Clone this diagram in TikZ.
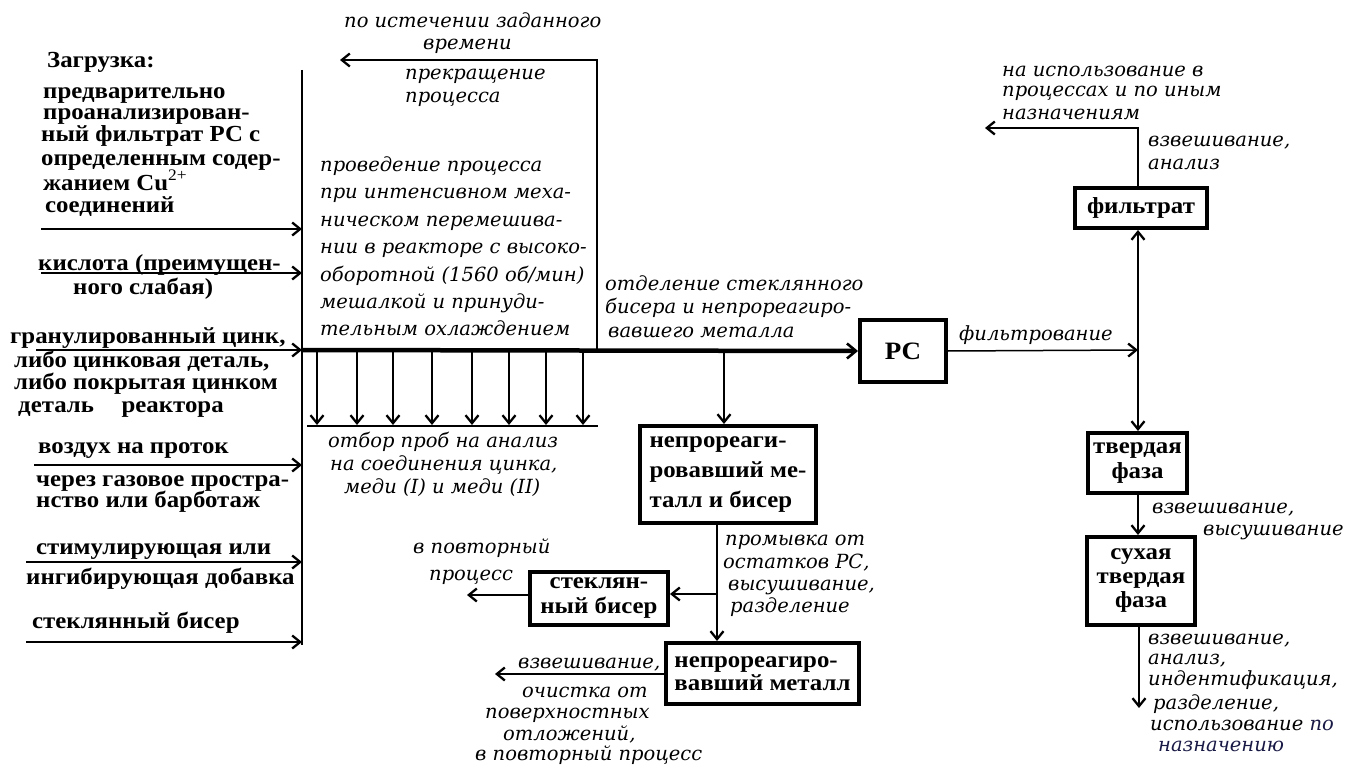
\documentclass[tikz,border=0pt]{standalone}
\usepackage{fontspec}
\setmainfont{Liberation Serif}
\newfontfamily\bfam[FakeStretch=1.08]{Liberation Serif}
\newfontfamily\itf{DejaVu Serif}
\usetikzlibrary{arrows.meta}
\definecolor{navyink}{RGB}{25,25,70}
\begin{document}
\begin{tikzpicture}[x=1pt,y=-1pt,
  >={Straight Barb[length=8pt,width=13pt,line width=2.3pt]},
  bt/.style={font=\bfam\fontsize{23}{21}\selectfont\bfseries, inner sep=0pt, anchor=base west},
  it/.style={font=\fontsize{19.5}{22}\selectfont\itf\itshape, inner sep=0pt, anchor=base west},
  ln/.style={line width=1.5pt},
  ar/.style={ln,->},
  mainln/.style={line width=4.5pt},
  box/.style={draw, line width=4pt, font=\bfam\fontsize{23}{25}\selectfont\bfseries, inner sep=0pt, align=center},
]
\useasboundingbox (0,0) rectangle (1345,765);

% ---------- left: loading ----------
\node[bt] (zag) at (47,68) {Загрузка:};
\node[bt] (a1) at (43,99) {предварительно};
\node[bt] (a2) at (43,120) {проанализирован-};
\node[bt] (a3) at (41,142) {ный фильтрат РС с};
\node[bt] (a4) at (41,166) {определенным содер-};
\node[bt] (a5) at (43,190) {жанием Cu\textsuperscript{\mdseries 2+}};
\node[bt] (a6) at (45,213) {соединений};
\node[bt] (b1) at (38,270) {кислота (преимущен-};
\node[bt] (b2) at (73,294) {ного слабая)};
\node[bt] (c1) at (10,343) {гранулированный цинк,};
\node[bt] (c2) at (14,367) {либо цинковая деталь,};
\node[bt] (c3) at (14,389) {либо покрытая цинком};
\node[bt] (c4) at (18,412) {деталь\hspace{1.2em}реактора};
\node[bt] (d1) at (38,453) {воздух на проток};
\node[bt] (d2) at (36,486) {через газовое простра-};
\node[bt] (d3) at (36,507) {нство или барботаж};
\node[bt] (e1) at (36,554) {стимулирующая или};
\node[bt] (e2) at (26,584) {ингибирующая добавка};
\node[bt] (f1) at (32,628) {стеклянный бисер};

% reactor wall
\coordinate (wtop) at (302,70);
\coordinate (wbot) at (302,645);
\draw[ln] (wtop) -- (wbot);

\coordinate (in1) at (41,229);  \coordinate (w1) at (302,229);
\coordinate (in2) at (41,273);  \coordinate (w2) at (302,273);
\coordinate (in3) at (36,350);  \coordinate (w3) at (302,350);
\coordinate (in4) at (34,465);  \coordinate (w4) at (302,465);
\coordinate (in5) at (26,562);  \coordinate (w5) at (302,562);
\coordinate (in6) at (26,642);  \coordinate (w6) at (302,642);
\draw[ar] (in1) -- (w1);
\draw[ar] (in2) -- (w2);
\draw[ar] (in3) -- (w3);
\draw[ar] (in4) -- (w4);
\draw[ar] (in5) -- (w5);
\draw[ar] (in6) -- (w6);

% ---------- process ----------
\node[it] (p0a) at (344,28) {по истечении заданного};
\node[it] (p0b) at (423,50) {времени};
\node[it] (p1a) at (405,80) {прекращение};
\node[it] (p1b) at (405,103) {процесса};
\node[it] (p2a) at (320,172) {проведение процесса};
\node[it] (p2b) at (320,199) {при интенсивном меха-};
\node[it] (p2c) at (320,226) {ническом перемешива-};
\node[it] (p2d) at (320,253) {нии в реакторе с высоко-};
\node[it] (p2e) at (320,281) {оборотной (1560 об/мин)};
\node[it] (p2f) at (320,308) {мешалкой и принуди-};
\node[it] (p2g) at (320,335) {тельным охлаждением};

\coordinate (stopc) at (597,60);
\coordinate (stopend) at (340,60);
\coordinate (stopbase) at (597,350);
\draw[ar] (stopbase) -- (stopc) -- (stopend);

% PC box
\node[box, minimum width=86pt, minimum height=62pt, font=\bfam\fontsize{25}{25}\selectfont\bfseries] (pc) at (903,351) {РС};
\draw[mainln, -{Straight Barb[length=9pt,width=15pt,line width=2.6pt]}] (w3) -- (pc.west);

\node[it] (sepa) at (605,290) {отделение стеклянного};
\node[it] (sepb) at (605,313) {бисера и непрореагиро-};
\node[it] (sepc) at (608,337) {вавшего металла};

% sampling arrows
\foreach \i/\xx in {1/317,2/357,3/393,4/432,5/472,6/509,7/546,8/583}{
  \coordinate (sa\i) at (\xx,352);
  \coordinate (sb\i) at (\xx,425);
  \draw[ar] (sa\i) -- (sb\i);
}
\coordinate (sl) at (307,426);
\coordinate (sr) at (598,426);
\draw[ln] (sl) -- (sr);
\node[it] (s1) at (328,447) {отбор проб на анализ};
\node[it] (s2) at (330,470) {на соединения цинка,};
\node[it] (s3) at (344,493) {меди (I) и меди (II)};

% unreacted metal and beads
\node[box, minimum width=176pt, minimum height=97pt, align=left, font=\bfam\fontsize{23}{30}\selectfont\bfseries] (mb) at (728,474.5) {непрореаги-\\ровавший ме-\\талл и бисер};
\coordinate (mtop) at (724,352);
\draw[ar] (mtop) -- (mtop |- mb.north);

\node[box, minimum width=138pt, minimum height=53pt, font=\bfam\fontsize{23}{25}\selectfont\bfseries] (gb) at (599,598.5) {стеклян-\\ный бисер};
\node[box, minimum width=193pt, minimum height=61pt, align=left, font=\bfam\fontsize{23}{23}\selectfont\bfseries] (um) at (762.5,673.5) {непрореагиро-\\вавший металл};

\coordinate (mbot) at (717,523);
\coordinate (br) at (717,594);
\draw[ln] (mbot) -- (br);
\draw[ar] (br) -- (br |- um.north);
\draw[ar] (br) -- (br -| gb.east);

\node[it] (w1a) at (725,545) {промывка от};
\node[it] (w1b) at (723,568) {остатков РС,};
\node[it] (w1c) at (728,590) {высушивание,};
\node[it] (w1d) at (730,612) {разделение};

\coordinate (gbend) at (467,595);
\draw[ar] (gb.west |- gbend) -- (gbend);
\node[it] (r1) at (413,553) {в повторный};
\node[it] (r2) at (429,580) {процесс};

\coordinate (umend) at (495,674);
\draw[ar] (um.west |- umend) -- (umend);
\node[it] (u1) at (518,668) {взвешивание,};
\node[it] (u2) at (522,697) {очистка от};
\node[it] (u3) at (485,718) {поверхностных};
\node[it] (u4) at (503,740) {отложений,};
\node[it] (u5) at (475,760) {в повторный процесс};

% ---------- filtration ----------
\coordinate (fj) at (1138,350);
\draw[ar] (pc.east) -- (fj);
\node[it] (flt) at (959,340) {фильтрование};

\node[box, minimum width=132pt, minimum height=40pt] (fil) at (1141,208) {фильтрат};
\node[box, minimum width=99pt, minimum height=60pt] (tf) at (1137.5,463) {твердая\\фаза};
\node[box, minimum width=108pt, minimum height=88pt, font=\bfam\fontsize{23}{24}\selectfont\bfseries] (sf) at (1141,581) {сухая\\твердая\\фаза};

\draw[ar] (fj) -- (fj |- fil.south);
\draw[ar] (fj) -- (fj |- tf.north);

\coordinate (fup) at (1138,128);
\coordinate (fend) at (985,128);
\draw[ar] (fup |- fil.north) -- (fup) -- (fend);
\node[it] (n1) at (1002,77) {на использование в};
\node[it] (n2) at (1002,97) {процессах и по иным};
\node[it] (n3) at (1002,120) {назначениям};
\node[it] (n4) at (1148,147) {взвешивание,};
\node[it] (n5) at (1148,170) {анализ};

\coordinate (tfx) at (1138,0);
\draw[ar] (tfx |- tf.south) -- (tfx |- sf.north);
\node[it] (t1) at (1152,513) {взвешивание,};
\node[it] (t2) at (1203,535) {высушивание};

\coordinate (sfend) at (1139,708);
\draw[ar] (sfend |- sf.south) -- (sfend);
\node[it] (v1) at (1148,644) {взвешивание,};
\node[it] (v2) at (1148,664) {анализ,};
\node[it] (v3) at (1148,685) {индентификация,};
\node[it] (v4) at (1153,709) {разделение,};
\node[it] (v5) at (1150,730) {использование \textcolor{navyink}{по}};
\node[it, text=navyink] (v6) at (1158,751) {назначению};
\end{tikzpicture}
\end{document}
